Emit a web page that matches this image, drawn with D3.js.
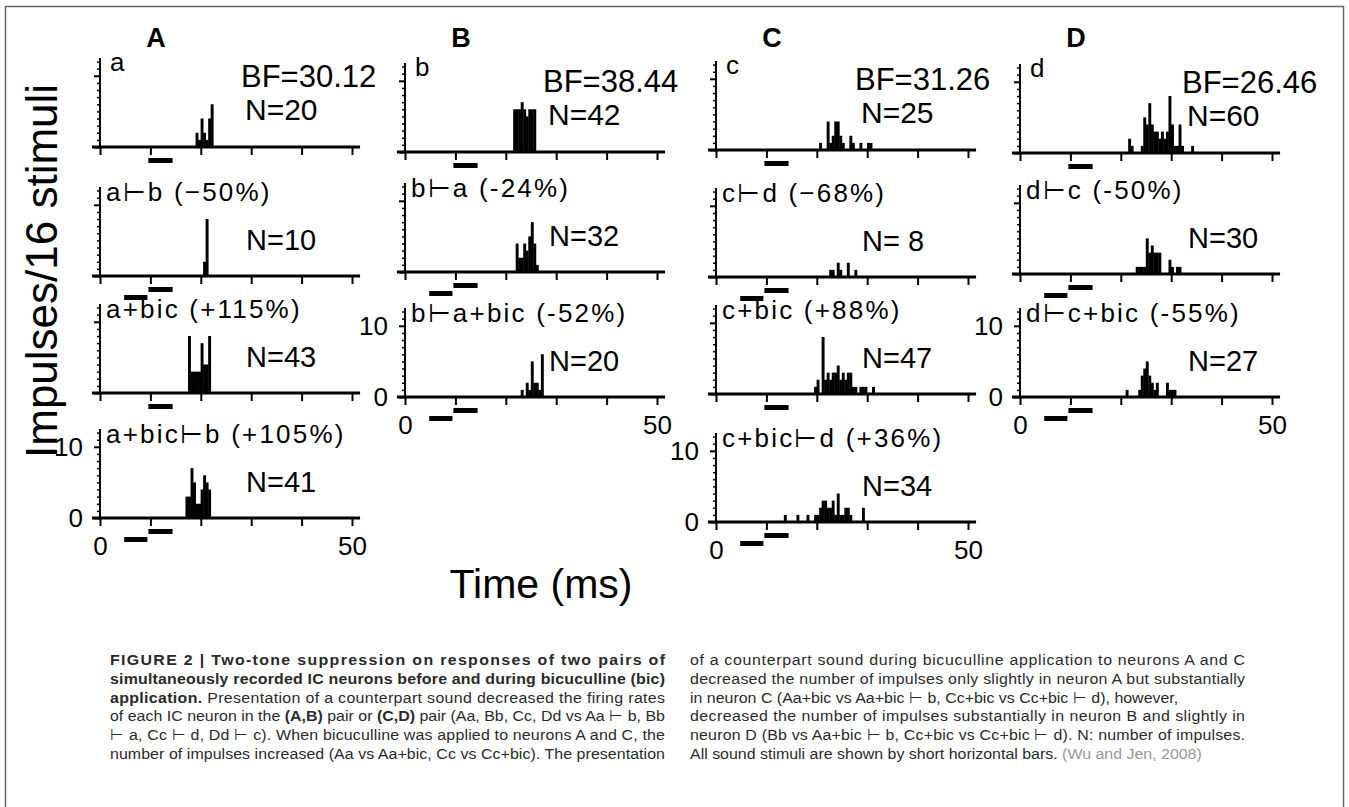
<!DOCTYPE html>
<html><head><meta charset="utf-8">
<script src="https://cdn.jsdelivr.net/npm/d3@7"></script>
<style>
html,body{margin:0;padding:0;background:#fff;}
svg{display:block;}
</style></head><body>
<script>
// ---------------- data ----------------
const panelLetters = ["A", "B", "C", "D"];
const bfLabels = ["BF=30.12", "BF=38.44", "BF=31.26", "BF=26.46"];
const titlesA = ["a", "a\u22A2b (\u221250%)", "a+bic (+115%)", "a+bic\u22A2b (+105%)"];
const titlesB = ["b", "b\u22A2a (-24%)", "b\u22A2a+bic (-52%)"];
const titlesC = ["c", "c\u22A2d (\u221268%)", "c+bic (+88%)", "c+bic\u22A2d (+36%)"];
const titlesD = ["d", "d\u22A2c (-50%)", "d\u22A2c+bic (-55%)"];
const nA = ["N=20", "N=10", "N=43", "N=41"];
const nB = ["N=42", "N=32", "N=20"];
const nC = ["N=25", "N= 8", "N=47", "N=34"];
const nD = ["N=60", "N=30", "N=27"];
// two stimuli shown (suppression condition)?
const twoToneA = [false, true, false, true];
const twoToneB = [false, true, true];
const twoToneC = [false, true, false, true];
const twoToneD = [false, true, true];
// stimulus timing (ms)
const stimMain = [9.6, 14.4];
const stimCounter = [4.8, 9.4];
const xTicks = [0, 10, 20, 30, 40, 50];
const xTickLabels = {0: "0", 50: "50"};
const yTickLabels = {0: "0", 10: "10"};
const binWidth = 0.5; // ms

// histograms: bin start (ms) and impulses / 16 stimuli
const tAa = [19, 19.5, 20, 20.5, 21, 21.5, 22];
const nAa = [2, 1, 4, 2, 1, 4, 6];
const tAab = [20.5, 21];
const nAab = [2, 8];
const tAabic = [17.5, 18, 18.5, 19, 19.5, 20, 20.5, 21, 21.5];
const nAabic = [8, 3, 3, 3, 3, 7, 4, 4, 8];
const tAabicb = [17, 17.5, 18, 18.5, 19, 19.5, 20, 20.5, 21, 21.5];
const nAabicb = [3, 3, 7, 5, 2, 2, 4, 6, 5, 4];

const tBb = [21.5, 22, 22.5, 23, 23.5, 24, 24.5, 25, 25.5];
const nBb = [6, 6, 6, 7, 6, 5, 6, 6, 6];
const tBba = [22, 22.5, 23, 23.5, 24, 24.5, 25, 25.5, 26];
const nBba = [4, 2, 2, 4, 3, 5, 7, 4, 1];
const tBbabic = [23, 24, 24.5, 25, 25.5, 26, 26.5, 27];
const nBbabic = [1, 2, 1, 5, 2, 2, 1, 6];

const tCc = [20.5, 22, 22.5, 23, 23.5, 24, 24.5, 25, 26.5, 27, 28.5, 30, 30.5];
const nCc = [1, 4, 1, 2, 4, 4, 2, 1, 2, 1, 1, 1, 1];
const tCcd = [22.5, 23, 24, 24.5, 26, 27.5];
const nCcd = [1, 1, 2, 1, 2, 1];
const tCcbic = [19.5, 20, 21, 21.5, 22, 22.5, 23, 23.5, 24, 24.5, 25, 25.5, 26, 26.5, 27, 27.5, 28.5, 29, 29.5, 31];
const nCcbic = [1, 2, 8, 2, 3, 2, 3, 3, 4, 2, 3, 2, 3, 3, 1, 1, 1, 1, 1, 1];
const tCcbicd = [13.5, 16, 18, 19.5, 20, 20.5, 21, 21.5, 22, 22.5, 23, 23.5, 24, 24.5, 25, 25.5, 26, 26.5, 29];
const nCcbicd = [1, 1, 1, 1, 1, 2, 3, 3, 2, 2, 3, 1, 4, 1, 1, 2, 2, 1, 2];

const tDd = [21.5, 22, 24, 24.5, 25, 25.5, 26, 26.5, 27, 27.5, 28, 28.5, 29, 29.5, 30, 30.5, 31, 31.5, 32, 34];
const nDd = [2, 1, 1, 5, 4, 7, 4, 3, 3, 2, 3, 2, 3, 8, 4, 1, 1, 4, 1, 1];
const tDdc = [23, 23.5, 24, 24.5, 25, 25.5, 26, 26.5, 27, 27.5, 29.5, 30, 31, 31.5];
const nDdc = [1, 1, 1, 1, 5, 3, 4, 3, 3, 3, 2, 1, 1, 1];
const tDdcbic = [21, 23.5, 24, 24.5, 25, 25.5, 26, 26.5, 27, 29, 29.5, 30, 30.5];
const nDdcbic = [1, 1, 3, 4, 5, 3, 2, 1, 2, 2, 1, 1, 1];

const yAxisTitle = "Impulses/16 stimuli";
const xAxisTitle = "Time (ms)";

const captionLeft = [
  [["FIGURE 2 | Two-tone suppression on responses of two pairs of", "b"]],
  [["simultaneously recorded IC neurons before and during bicuculline (bic)", "b"]],
  [["application.", "b"], [" Presentation of a counterpart sound decreased the firing rates", ""]],
  [["of each IC neuron in the ", ""], ["(A,B)", "b"], [" pair or ", ""], ["(C,D)", "b"], [" pair (Aa, Bb, Cc, Dd vs Aa \u22A2 b, Bb", ""]],
  [["\u22A2 a, Cc \u22A2 d, Dd \u22A2 c). When bicuculline was applied to neurons A and C, the", ""]],
  [["number of impulses increased (Aa vs Aa+bic, Cc vs Cc+bic). The presentation", ""]]
];
const captionRight = [
  [["of a counterpart sound during bicuculline application to neurons A and C", ""]],
  [["decreased the number of impulses only slightly in neuron A but substantially", ""]],
  [["in neuron C (Aa+bic vs Aa+bic \u22A2 b, Cc+bic vs Cc+bic \u22A2 d), however,", ""]],
  [["decreased the number of impulses substantially in neuron B and slightly in", ""]],
  [["neuron D (Bb vs Aa+bic \u22A2 b, Cc+bic vs Cc+bic \u22A2 d). N: number of impulses.", ""]],
  [["All sound stimuli are shown by short horizontal bars. ", ""], ["(Wu and Jen, 2008)", "g"]]
];
const justifyLeft = [true, true, true, true, true, true];
const justifyRight = [true, true, false, true, true, false];

// ---------------- layout ----------------
const W = 1349, H = 807;
const FONT = "'Liberation Sans', Arial, Helvetica, sans-serif";
const colX0 = [100, 405, 716, 1020];
const plotW = 252;
const plotH = 89;
const rowBase = [[147, 276, 393, 518], [152, 272, 397], [150, 277, 394, 522], [153, 274, 397]];
const bfDx = [141, 138, 139, 162];
const nDx = [145, 143, 145, 167];

const columns = [
  {titles: titlesA, ns: nA, two: twoToneA, hist: [[tAa, nAa], [tAab, nAab], [tAabic, nAabic], [tAabicb, nAabicb]]},
  {titles: titlesB, ns: nB, two: twoToneB, hist: [[tBb, nBb], [tBba, nBba], [tBbabic, nBbabic]]},
  {titles: titlesC, ns: nC, two: twoToneC, hist: [[tCc, nCc], [tCcd, nCcd], [tCcbic, nCcbic], [tCcbicd, nCcbicd]]},
  {titles: titlesD, ns: nD, two: twoToneD, hist: [[tDd, nDd], [tDdc, nDdc], [tDdcbic, nDdcbic]]}
];

const svg = d3.select("body").append("svg").attr("width", W).attr("height", H)
  .style("font-family", FONT);

// frame
svg.append("rect").attr("x", 5.5).attr("y", 6.5).attr("width", 1338).attr("height", 820)
  .attr("fill", "none").attr("stroke", "#666").attr("stroke-width", 1.5);

columns.forEach((col, ci) => {
  const x0 = colX0[ci];
  svg.append("text").attr("x", x0 + 56).attr("y", 47).attr("text-anchor", "middle")
    .attr("font-weight", "bold").attr("font-size", 27).text(panelLetters[ci]);

  col.titles.forEach((title, ri) => {
    const base = rowBase[ci][ri];
    const bottom = ri === col.titles.length - 1;
    const x = d3.scaleLinear().domain([0, 50]).range([x0, x0 + plotW]);
    const y = d3.scaleLinear().domain([0, 12.5]).range([base, base - plotH]);
    const g = svg.append("g");

    // histogram bars
    const [ts, cs] = col.hist[ri];
    g.selectAll("rect.bar").data(ts.map((t, i) => ({t, c: cs[i]}))).join("rect")
      .attr("class", "bar")
      .attr("x", d => x(d.t) - 0.2)
      .attr("width", d => x(d.t + binWidth) - x(d.t) + 0.4)
      .attr("y", d => y(d.c))
      .attr("height", d => y(0) - y(d.c))
      .attr("fill", "#000");

    // x axis
    const xa = d3.axisBottom(x).tickValues(xTicks).tickSize(8).tickPadding(11)
      .tickFormat(d => bottom ? (xTickLabels[d] || "") : "");
    const gx = g.append("g").attr("transform", `translate(0,${base})`).call(xa);
    gx.select(".domain").remove();
    gx.selectAll("line").attr("stroke", "#000").attr("stroke-width", 2);
    gx.selectAll("text").attr("font-size", 26).attr("font-family", FONT).attr("fill", "#000");
    g.append("line").attr("x1", x(-1.6)).attr("x2", x(51.6)).attr("y1", base).attr("y2", base)
      .attr("stroke", "#000").attr("stroke-width", 3);

    // y axis: minor ticks every impulse, major at 0/10
    const ya1 = d3.axisLeft(y).tickValues(d3.range(1, 13).filter(v => v !== 10)).tickSize(3).tickFormat("");
    const gy1 = g.append("g").attr("transform", `translate(${x0},0)`).call(ya1);
    gy1.select(".domain").remove();
    gy1.selectAll("line").attr("stroke", "#000").attr("stroke-width", 1.5);
    const ya2 = d3.axisLeft(y).tickValues([0, 10]).tickSize(6).tickPadding(11)
      .tickFormat(d => bottom ? yTickLabels[d] : "");
    const gy2 = g.append("g").attr("transform", `translate(${x0},0)`).call(ya2);
    gy2.select(".domain").remove();
    gy2.selectAll("line").attr("stroke", "#000").attr("stroke-width", 2);
    gy2.selectAll("text").attr("font-size", 26).attr("font-family", FONT).attr("fill", "#000");
    g.append("line").attr("x1", x0).attr("x2", x0).attr("y1", y(0)).attr("y2", y(12.5))
      .attr("stroke", "#000").attr("stroke-width", 2);

    // stimulus bars
    g.append("rect").attr("x", x(stimMain[0])).attr("width", x(stimMain[1]) - x(stimMain[0]))
      .attr("y", base + 11).attr("height", 5).attr("fill", "#000");
    if (col.two[ri]) {
      g.append("rect").attr("x", x(stimCounter[0])).attr("width", x(stimCounter[1]) - x(stimCounter[0]))
        .attr("y", base + 19).attr("height", 5).attr("fill", "#000");
    }

    // texts
    if (ri === 0) {
      g.append("text").attr("x", x0 + 10).attr("y", base - 76).attr("font-size", 26).text(title);
      g.append("text").attr("x", x0 + bfDx[ci]).attr("y", base - 60).attr("font-size", 31).text(bfLabels[ci]);
      g.append("text").attr("x", x0 + nDx[ci]).attr("y", base - 27).attr("font-size", 30).text(col.ns[ri]);
    } else {
      g.append("text").attr("x", x0 + 6).attr("y", base - 75).attr("font-size", 26)
        .attr("letter-spacing", 2.2).text(title);
      g.append("text").attr("x", x0 + nDx[ci] + 1).attr("y", base - 26).attr("font-size", 29).text(col.ns[ri]);
    }
  });
});

// axis titles
svg.append("text").attr("transform", "translate(57,458) rotate(-90)").attr("font-size", 44)
  .text(yAxisTitle);
svg.append("text").attr("x", 541).attr("y", 598).attr("text-anchor", "middle").attr("font-size", 41)
  .text(xAxisTitle);

// caption: condensed look via horizontal scaling, justified lines
const capCols = [
  {lines: captionLeft, x: 110, just: justifyLeft},
  {lines: captionRight, x: 690, just: justifyRight}
];
const colWidth = 555;
const capItems = [];
capCols.forEach(cc => {
  cc.lines.forEach((segs, i) => {
    const t = svg.append("text").attr("x", 0).attr("y", 0)
      .attr("font-size", 15.5).attr("fill", "#2a2a2a");
    segs.forEach(([s, st]) => {
      const sp = t.append("tspan").text(s);
      if (st === "b") sp.attr("font-weight", "bold");
      if (st === "g") sp.attr("fill", "#999");
    });
    capItems.push({t, x: cc.x, y: 665 + i * 18.8, just: cc.just[i]});
  });
});
const maxLen = d3.max(capItems.filter(d => d.just), d => d.t.node().getComputedTextLength());
const sx = colWidth / maxLen;
capItems.forEach(d => {
  d.t.attr("transform", `translate(${d.x},${d.y}) scale(${sx},1)`);
  if (d.just) d.t.attr("textLength", colWidth / sx).attr("lengthAdjust", "spacing");
});
</script>
</body></html>
